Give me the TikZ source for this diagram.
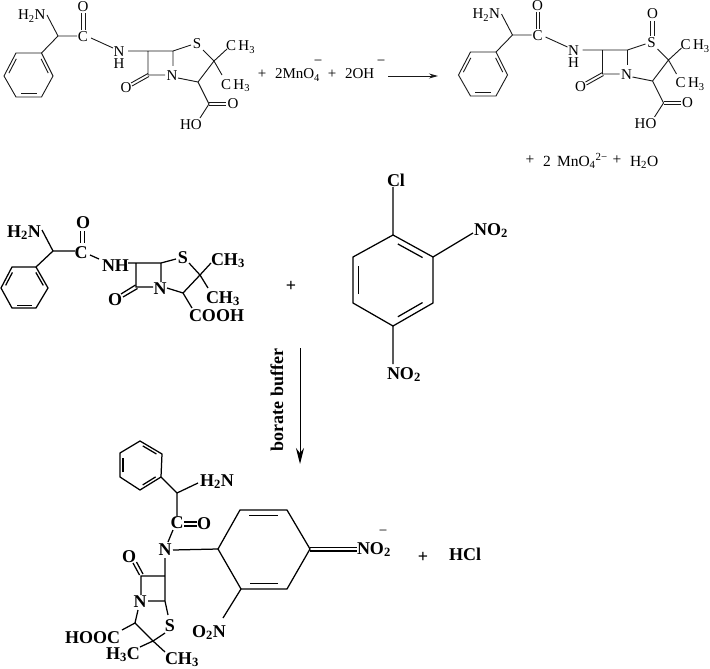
\documentclass[tikz,border=0pt]{standalone}
\usepackage{fontspec}
\setmainfont{Liberation Serif}
\usetikzlibrary{arrows.meta,calc}
\tikzset{
  x=1pt,y=-1pt,
  lab/.style={inner sep=0pt,outer sep=0pt,font=\fontsize{15}{15}\selectfont},
  plab/.style={inner sep=0pt,outer sep=0pt,font=\fontsize{15.5}{15.5}\selectfont},
  blab/.style={inner sep=0pt,outer sep=0pt,font=\fontsize{18}{18}\selectfont\bfseries},
  thinb/.style={line width=0.9pt,black!90},
  boldb/.style={line width=1.25pt,black},
}
\newcommand{\inb}[3]{\draw ($(#1)!0.14!(#2)!0.14!(#3)$) -- ($(#2)!0.14!(#1)!0.14!(#3)$);}
\newcommand{\coo}[3]{\coordinate (#1) at (#2,#3);}
\newcommand{\amp}{%
  \coo{b1}{16}{53}\coo{b2}{41.5}{53}\coo{b3}{53}{76}\coo{b4}{41.5}{97}\coo{b5}{16}{97}\coo{b6}{4}{76}\coo{bc}{28.7}{75}
  \coo{ch}{58}{36}\coo{cc}{77}{36}\coo{tl}{148}{51}\coo{tr}{173}{51}\coo{bl}{148}{75}
  \coo{ca}{198}{82}\coo{cm}{214}{61}\coo{cx}{209}{104}
  \node[lab,anchor=base west] (h2n) at (18,20) {H\textsubscript{2}N};
  \node[lab] (oa) at (83,7) {O};
  \node[lab] (cb) at (83,37) {C};
  \node[inner sep=0pt,outer sep=0pt,align=center,font=\fontsize{15}{12}\selectfont] (nh) at (119,58) {N\\H};
  \node[lab] (nn) at (172,76) {N};
  \node[lab] (ob) at (126,88) {O};
  \node[lab] (sa) at (197,44) {S};
  \node[lab,anchor=base west] (me1) at (226,51) {C\,H\textsubscript{3}};
  \node[lab,anchor=base west] (me2) at (221,89) {C\,H\textsubscript{3}};
  \node[lab] (oc) at (233,104) {O};
  \node[lab] (ho) at (191,125) {HO};
  \draw[thinb] (b1)--(b2)--(b3)--(b4)--(b5)--(b6)--cycle;
  \draw[thinb] (b2)--(ch) (ch)--(47,15) (ch)--(cc) (91,38)--(113,48) (128,51)--(tl)--(tr)--(173,66) (tl)--(bl)--(165,75)
    (tr)--(191,45) (203,50)--(cm)--(227,49) (cm)--(222,75) (cm)--(ca)--(178,78) (ca)--(cx)--(200,118);
  \draw[thinb] (81.5,13)--(81.5,30) (85,13)--(85,30);
  \draw[thinb] (148,73.5)--(131,83) (149,76.5)--(132,86);
  \draw[thinb] (209,102.5)--(226,102.5) (209,105.5)--(226,105.5);
  \begin{scope}[thinb]\inb{b1}{b6}{bc}\inb{b4}{b5}{bc}\inb{b2}{b3}{bc}\end{scope}
}
\begin{document}
\begin{tikzpicture}
\useasboundingbox (0,0) rectangle (710,669);
\begin{scope}[name prefix=a-]\amp\end{scope}
\begin{scope}[shift={(454.5,-1)},name prefix=c-]\amp
  \node[lab] (os) at (198,15) {O};
  \draw[thinb] (196,22)--(196,37) (199.5,22)--(199.5,37);
\end{scope}
% first equation
\node[lab] (p1) at (262,74) {+};
\node[lab,anchor=base west] (mn) at (275,79) {2MnO\textsubscript{4}};
\node[lab] (m1) at (318,63) {\textminus};
\node[lab] (p2) at (332,74) {+};
\node[lab,anchor=base west] (oh) at (345,79) {2OH};
\node[lab] (m2) at (381,63) {\textminus};
\coordinate (ar1) at (388,76); \coordinate (ar2) at (438,76);
\draw[thinb,-{Stealth[length=9pt,width=5pt]}] (ar1)--(ar2);
\node[plab] (pp1) at (530,160) {+};
\node[plab,anchor=base west] (pp2) at (543,166) {2};
\node[plab,anchor=base west] (pp3) at (557,166) {MnO\textsubscript{4}\textsuperscript{2\textminus}};
\node[plab] (pp4) at (617,160) {+};
\node[plab,anchor=base west] (pp5) at (630,166) {H\textsubscript{2}O};
% third molecule
\coo{e1}{12}{267}\coo{e2}{36}{267}\coo{e3}{48}{288}\coo{e4}{36}{308}\coo{e5}{12}{308}\coo{e6}{1}{288}\coo{ec}{24.5}{287.5}
\coo{ech}{53}{251}\coo{ecc}{75}{251}\coo{etl}{136}{263}\coo{etr}{161}{263}\coo{ebl}{136}{287}
\coo{eca}{183}{293}\coo{ecm}{200}{275}
\node[blab,anchor=base west] (eh2n) at (7,237) {H\textsubscript{2}N};
\node[blab] (eo) at (83,223) {O};
\node[blab] (ecl) at (81,253) {C};
\node[blab,anchor=base west] (enh) at (102,271) {NH};
\node[blab] (en) at (160,289) {N};
\node[blab] (eo2) at (115,300) {O};
\node[blab] (es) at (183,258) {S};
\node[blab,anchor=base west] (eme1) at (211,265) {CH\textsubscript{3}};
\node[blab,anchor=base west] (eme2) at (206,303) {CH\textsubscript{3}};
\node[blab,anchor=base west] (ecooh) at (189,321) {COOH};
\draw[boldb] (e1)--(e2)--(e3)--(e4)--(e5)--(e6)--cycle;
\draw[boldb] (e2)--(ech) (ech)--(42,230) (ech)--(ecc) (90,255)--(99,259) (128,263)--(etl)--(etr)--(161,282) (etl)--(ebl)--(153,287)
  (etr)--(176,259) (189,263)--(ecm)--(211,263) (ecm)--(208,288) (ecm)--(eca)--(167,288) (eca)--(192,308);
\draw[boldb] (80.5,231)--(80.5,243) (84.5,231)--(84.5,243);
\draw[boldb] (135.5,285)--(121,294) (137.5,288.5)--(123,297);
\begin{scope}[boldb]\inb{e1}{e6}{ec}\inb{e4}{e5}{ec}\inb{e2}{e3}{ec}\end{scope}
\node[blab] (ep) at (291,286) {+};
% chloro-dinitrobenzene
\coo{d1}{393}{235}\coo{d2}{433}{257}\coo{d3}{433}{303}\coo{d4}{393}{326}\coo{d5}{353}{303}\coo{d6}{353}{257}\coo{dc}{393}{280}
\node[blab] (cl) at (396,180) {Cl};
\node[blab,anchor=base west] (dn1) at (474,235) {NO\textsubscript{2}};
\node[blab,anchor=base west] (dn2) at (387,379) {NO\textsubscript{2}};
\draw[boldb] (d1)--(d2)--(d3)--(d4)--(d5)--(d6)--cycle;
\draw[boldb] (d1)--(393,187) (d2)--(473,233) (d4)--(393,364);
\begin{scope}[boldb]\inb{d1}{d2}{dc}\inb{d3}{d4}{dc}\inb{d5}{d6}{dc}\end{scope}
% vertical arrow
\coordinate (ar3) at (300,348); \coordinate (ar4) at (300,464);
\draw[line width=1pt,-{Stealth[length=16pt,width=8pt]}] (ar3)--(ar4);
\node[inner sep=0pt,rotate=90,font=\fontsize{18}{18}\selectfont\bfseries] (bb) at (277,400) {borate buffer};
% product
\coo{f1}{140}{441}\coo{f2}{162}{454}\coo{f3}{161}{477}\coo{f4}{140}{490}\coo{f5}{120}{477}\coo{f6}{120}{453}\coo{fcen}{141}{465}
\coo{fch}{177}{493}\coo{fh}{177}{516}
\coo{g1}{218}{549}\coo{g2}{240}{510}\coo{g3}{287}{510}\coo{g4}{310}{549}\coo{g5}{287}{589}\coo{g6}{241}{589}\coo{gc}{264}{549}
\coo{h1}{165}{576}\coo{h2}{141}{576}\coo{h3}{165}{601}\coo{h4}{135}{623}\coo{h5}{153}{641}
\node[blab,anchor=base west] (fh2n) at (200,486) {H\textsubscript{2}N};
\node[blab] (fcc) at (177,523) {C};
\node[blab] (fo) at (204,524) {O};
\node[blab] (fn) at (165,550) {N};
\node[blab] (fo2) at (129,557) {O};
\node[blab] (fn2) at (140,602) {N};
\node[blab] (fs) at (170,626) {S};
\node[blab,anchor=base west] (fno) at (357,554) {NO\textsubscript{2}};
\node[lab] (fm) at (383,533) {\textminus};
\node[blab] (fp) at (423,557) {+};
\node[blab,anchor=base west] (hcl) at (449,560) {HCl};
\node[blab,anchor=base west] (fo2n) at (192,637) {O\textsubscript{2}N};
\node[blab,anchor=base west] (fhooc) at (65,643) {HOOC};
\node[blab,anchor=base west] (fh3c) at (106,659) {H\textsubscript{3}C};
\node[blab,anchor=base west] (fch3) at (165,664) {CH\textsubscript{3}};
\draw[boldb] (f1)--(f2)--(f3)--(f4)--(f5)--(f6)--cycle;
\draw[boldb] (g1)--(g2)--(g3)--(g4)--(g5)--(g6)--cycle;
\draw[boldb] (f3)--(fch)--(198,483) (fch)--(fh)
  (173,530)--(168,542) (173,550)--(g1) (g6)--(223,618)
  (165,558)--(h1)--(h2)--(141,595) (148,601)--(h3)--(h1) (h3)--(168,615)
  (138,610)--(h4)--(122,630) (h4)--(h5)--(165,633) (h5)--(140,647) (h5)--(165,652);
\draw[boldb] (184,522)--(197,522) (184,526)--(197,526);
\draw[boldb] (310,547.5)--(357,547.5) (310,551)--(357,551);
\draw[boldb] (139.5,575)--(133,563) (143,574)--(136.5,562);
\begin{scope}[boldb]\inb{f1}{f2}{fcen}\inb{f5}{f6}{fcen}\inb{f3}{f4}{fcen}\inb{g2}{g3}{gc}\inb{g5}{g6}{gc}\end{scope}
\end{tikzpicture}
\end{document}
